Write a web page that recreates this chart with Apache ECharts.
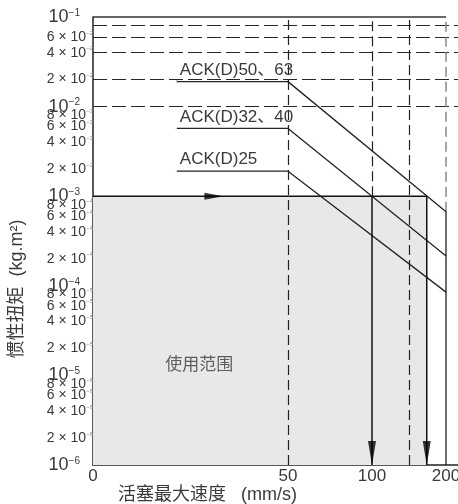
<!DOCTYPE html>
<html><head><meta charset="utf-8">
<script src="https://cdn.jsdelivr.net/npm/echarts@6/dist/echarts.min.js"></script>
<style>html,body{margin:0;padding:0;background:#fff}#c{width:458px;height:504px}</style>
</head><body><div id="c"></div>
<script>
// ---- data ----
const xTickSpeeds = [0, 50, 100, 200];
const xTickLabels = ['0', '50', '100', '200'];
const yTickValues = [1e-6, 2e-6, 4e-6, 6e-6, 8e-6, 1e-5, 2e-5, 4e-5, 6e-5, 8e-5,
  1e-4, 2e-4, 4e-4, 6e-4, 8e-4, 1e-3, 2e-3, 4e-3, 6e-3, 8e-3, 1e-2, 2e-2, 4e-2, 6e-2, 8e-2, 1e-1];
const yGridValues = [2e-6, 4e-6, 6e-6, 8e-6, 1e-5, 2e-5, 4e-5, 6e-5, 8e-5,
  1e-4, 2e-4, 4e-4, 6e-4, 8e-4, 1e-3, 2e-3, 4e-3, 6e-3, 8e-3, 1e-2, 2e-2, 4e-2, 6e-2, 8e-2];
const xGridSpeeds = [50, 150];

const ack5063Speed = [21.5, 50, 200, 200];
const ack5063Inertia = [1.9e-2, 1.9e-2, 6.7e-4, 1e-6];
const ack3240Speed = [21.5, 50, 200];
const ack3240Inertia = [5.7e-3, 5.7e-3, 2.15e-4];
const ack25Speed = [21.5, 50, 200];
const ack25Inertia = [1.9e-3, 1.9e-3, 8.5e-5];

const exampleInertia = 1e-3;
const exampleSpeeds = [100, 174];   // speeds where 1e-3 meets ACK(D)32/40 and ACK(D)50/63
const yMin = 1e-6, yMax = 1e-1;

// ---- nonlinear speed axis scale ----
const xScalePos = [0, 195, 279, 353];   // axis position of each tick speed
const xAxisEnd = 365;
function toPos(s) {
  const n = xTickSpeeds.length;
  for (let i = 1; i < n; i++) {
    if (s <= xTickSpeeds[i] || i === n - 1) {
      const s0 = xTickSpeeds[i-1], s1 = xTickSpeeds[i], p0 = xScalePos[i-1], p1 = xScalePos[i];
      return p0 + (s - s0) / (s1 - s0) * (p1 - p0);
    }
  }
}
const pts = (sp, val) => sp.map((s, i) => [toPos(s), val[i]]);

const FONT = "'Liberation Sans','Noto Sans CJK SC',sans-serif";
const TXT = '#3a3a3a';

function yLabel(v) {
  const e = Math.floor(Math.log10(v) + 1e-9);
  const m = Math.round(v / Math.pow(10, e));
  const es = String(e).replace('-', '\u2212');
  if (m === 1) return '{d|10}{ds|' + es + '}';
  return '{m|' + m + ' \u00d7 10}{ms|' + es + '}';
}

const gridLines = [];
yGridValues.forEach(v => {
  const decade = Math.abs(Math.log10(v) - Math.round(Math.log10(v))) < 1e-9;
  const low = v < exampleInertia;
  gridLines.push({
    yAxis: v,
    lineStyle: { type: [14, 5], width: (decade && low) ? 1.6 : 1.2,
      color: low ? (decade ? '#7a7a7a' : '#5a5a5a') : '#262626' }
  });
});
xGridSpeeds.forEach(s => gridLines.push({ xAxis: toPos(s), lineStyle: { type: [10, 5], width: 1.2, color: '#222' } }));
gridLines.push([{ coord: [toPos(exampleSpeeds[0]), exampleInertia], lineStyle: { type: [10, 5], width: 1.2, color: '#222' } },
                { coord: [toPos(exampleSpeeds[0]), yMax] }]);
gridLines.push([{ coord: [toPos(200), ack5063Inertia[2]], lineStyle: { type: [10, 5], width: 1.5, color: '#888' } },
                { coord: [toPos(200), yMax] }]);
gridLines.push([{ coord: [0, yMax], lineStyle: { type: 'solid', width: 1.5, color: '#333' } },
                { coord: [toPos(200), yMax] }]);

function ackSeries(name, sp, val) {
  const data = pts(sp, val).map((p, i) => i === 0 ? {
    value: p,
    label: { show: true, formatter: name, position: 'top', align: 'left', distance: 2, offset: [3, 0],
      color: TXT, fontSize: 17, fontFamily: FONT }
  } : p);
  return { type: 'line', data, showSymbol: true, symbolSize: 0.1, z: 5,
    lineStyle: { color: '#2a2222', width: 1.3 }, itemStyle: { color: '#2a2222' } };
}

const chart = echarts.init(document.getElementById('c'));
chart.setOption({
  animation: false,
  backgroundColor: '#fff',
  grid: { left: 93, right: 0, top: 17, bottom: 39, containLabel: false, outerBoundsMode: 'none' },
  xAxis: {
    type: 'value', min: 0, max: xAxisEnd,
    name: '活塞最大速度   (mm/s)', nameLocation: 'middle', nameGap: 21, nameMoveOverlap: false,
    nameTextStyle: { fontSize: 18, color: TXT, fontFamily: FONT, padding: [0, 136, 0, 0] },
    axisLine: { show: true, lineStyle: { color: '#222', width: 1.5 } },
    axisTick: { show: false }, splitLine: { show: false },
    axisLabel: {
      customValues: xTickSpeeds.map(toPos), margin: 3, hideOverlap: false,
      formatter: v => { const i = xTickSpeeds.findIndex(s => Math.abs(toPos(s) - v) < 1e-6); return i >= 0 ? xTickLabels[i] : ''; },
      fontSize: 17, color: TXT, fontFamily: FONT
    }
  },
  yAxis: {
    type: 'log', logBase: 10, min: yMin, max: yMax,
    name: '惯性扭矩  (kg.m²)', nameLocation: 'middle', nameRotate: 90, nameGap: 67, nameMoveOverlap: false,
    nameTextStyle: { fontSize: 18, color: TXT, fontFamily: FONT, padding: [0, 96, 0, 0] },
    axisLine: { show: true, lineStyle: { color: '#222', width: 1.5 } },
    axisTick: { show: false }, splitLine: { show: false }, minorSplitLine: { show: false },
    axisLabel: {
      customValues: yTickValues, margin: 0, formatter: yLabel, color: TXT, fontFamily: FONT,
      showMinLabel: true, showMaxLabel: true, hideOverlap: false,
      rich: {
        d: { fontSize: 18, color: TXT, fontFamily: FONT },
        ds: { fontSize: 10, color: TXT, fontFamily: FONT, verticalAlign: 'top', padding: [0, 13, 0, 0] },
        m: { fontSize: 14, color: TXT, fontFamily: FONT },
        ms: { fontSize: 6, color: '#888', fontFamily: FONT, verticalAlign: 'top' }
      }
    }
  },
  series: [
    { // operating range shading + 1e-3 line
      type: 'line', z: 3, symbol: 'none',
      data: [[0, exampleInertia], [toPos(exampleSpeeds[1]), exampleInertia]],
      lineStyle: { color: '#111', width: 1.5 },
      areaStyle: { color: '#e7e9e9', opacity: 1, origin: 'start' }
    },
    { type: 'line', data: [], z: 4, silent: true,
      markLine: { silent: true, symbol: ['none', 'none'], label: { show: false }, animation: false, data: gridLines } },
    ackSeries('ACK(D)50、63', ack5063Speed, ack5063Inertia),
    ackSeries('ACK(D)32、40', ack3240Speed, ack3240Inertia),
    ackSeries('ACK(D)25', ack25Speed, ack25Inertia),
    { type: 'line', symbol: 'none', z: 6, data: [[toPos(exampleSpeeds[0]), exampleInertia], [toPos(exampleSpeeds[0]), yMin]],
      lineStyle: { color: '#111', width: 1.5 } },
    { type: 'line', symbol: 'none', z: 6, data: [[toPos(exampleSpeeds[1]), exampleInertia], [toPos(exampleSpeeds[1]), yMin]],
      lineStyle: { color: '#111', width: 1.5 } },
    { type: 'scatter', z: 7, symbol: 'path://M0,0L10,0L5,30Z', symbolSize: [8, 24], symbolOffset: [0, -12],
      symbolKeepAspect: false, itemStyle: { color: '#000' },
      data: exampleSpeeds.map(s => [toPos(s), yMin]) },
    { type: 'scatter', z: 7, symbol: 'path://M0,0L30,5L0,10Z', symbolSize: [19, 7], itemStyle: { color: '#000' },
      data: [[toPos(31), exampleInertia]] },
    { type: 'scatter', z: 7, symbolSize: 0.1, itemStyle: { color: 'transparent' },
      label: { show: true, position: 'right', distance: 0, formatter: '使用范围', fontSize: 17, color: TXT, fontFamily: FONT },
      data: [[toPos(18.5), 1.3e-5]] }
  ]
});
</script></body></html>
